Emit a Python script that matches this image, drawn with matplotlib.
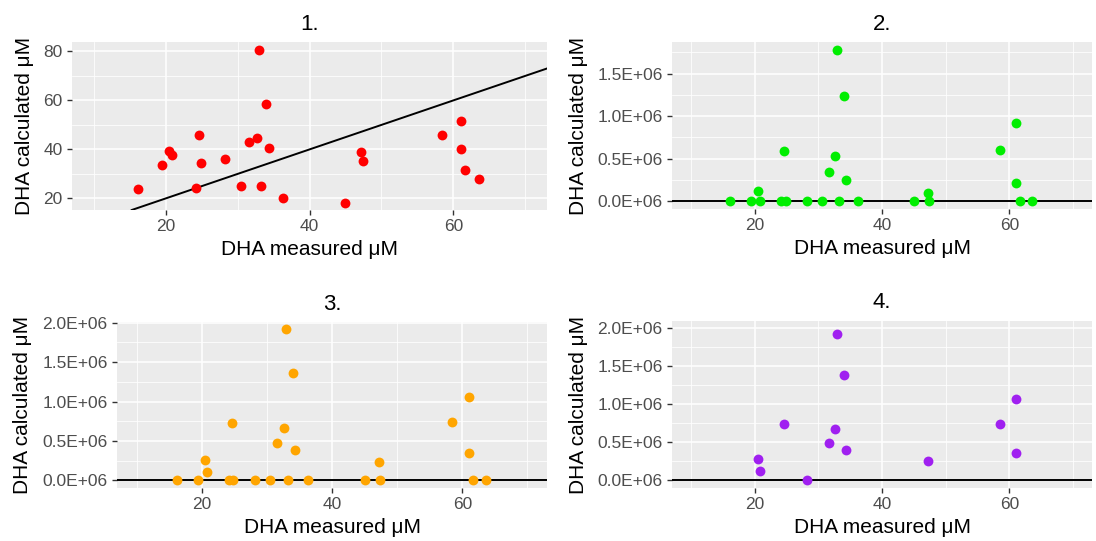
import matplotlib
matplotlib.use("Agg")
import matplotlib.pyplot as plt
from matplotlib.ticker import FuncFormatter, FixedLocator

plt.rcParams["font.family"] = ["Liberation Sans", "DejaVu Sans"]

# measured DHA (shared x for panels 1-3)
dha_measured = [16.16, 19.44, 20.46, 20.88, 24.17, 24.63, 24.86, 28.2, 30.5, 31.6,
                32.65, 32.98, 33.26, 34.0, 34.37, 36.3, 45.0, 47.16, 47.44, 58.47,
                61.1, 61.1, 61.67, 63.6]

calc_1 = [24.0, 33.7, 39.4, 37.6, 24.1, 45.7, 34.6, 36.2, 25.1, 42.9,
          44.5, 80.7, 24.9, 58.6, 40.6, 20.0, 18.35, 38.96, 35.1, 45.8,
          51.6, 40.2, 31.8, 28.1]

calc_2 = [0, 0, 0.126e6, 0, 0, 0.597e6, 0, 0, 0, 0.346e6,
          0.530e6, 1.782e6, 0, 1.237e6, 0.251e6, 0, 0, 0.102e6, 0, 0.601e6,
          0.919e6, 0.22e6, 0, 0]

calc_3 = [0, 0, 0.261e6, 0.109e6, 0, 0.728e6, 0, 0, 0, 0.476e6,
          0.665e6, 1.916e6, 0, 1.368e6, 0.383e6, 0, 0, 0.236e6, 0, 0.737e6,
          1.053e6, 0.354e6, 0, 0]

# panel 4 only has a subset of samples
dha_measured_4 = [20.46, 20.88, 24.63, 28.2, 31.6, 32.65, 32.98, 34.0, 34.37, 47.16,
                  58.47, 61.1, 61.1]
calc_4 = [0.273e6, 0.123e6, 0.738e6, 0, 0.484e6, 0.677e6, 1.921e6, 1.376e6, 0.391e6,
          0.246e6, 0.743e6, 1.06e6, 0.36e6]

titles = ["1.", "2.", "3.", "4."]
colors = ["#FF0000", "#00EE00", "#FFA500", "#A020F0"]

W, H = 1096, 541
PANEL_BG = "#EBEBEB"
PT_SIZE = 50


def px_rect(left, right, top, bottom):
    return [left / W, 1 - bottom / H, (right - left) / W, (bottom - top) / H]


def style(ax, title, ylab_x):
    ax.set_facecolor(PANEL_BG)
    for s in ax.spines.values():
        s.set_visible(False)
    ax.set_xlim(7.0, 73.0)
    ax.xaxis.set_major_locator(FixedLocator([20, 40, 60]))
    ax.xaxis.set_minor_locator(FixedLocator([10, 30, 50, 70]))
    ax.grid(which="major", color="white", linewidth=1.1)
    ax.grid(which="minor", color="white", linewidth=0.55)
    ax.set_axisbelow(True)
    ax.tick_params(which="major", length=3.5, width=1.0, color="#333333",
                   labelsize=12.5, labelcolor="#4D4D4D", pad=3.2)
    ax.tick_params(which="minor", length=0)
    ax.set_title(title, fontsize=16, pad=9)
    ax.set_xlabel("DHA measured μM", fontsize=15, labelpad=4)
    ax.set_ylabel("DHA calculated μM", fontsize=15)
    ax.yaxis.set_label_coords(ylab_x, 0.5)


sci = FuncFormatter(lambda v, p: f"{v / 1e6:.1f}E+06")

fig = plt.figure(figsize=(W / 100, H / 100), dpi=100)

# panel 1
ax1 = fig.add_axes(px_rect(72, 547, 42, 210))
ax1.scatter(dha_measured, calc_1, s=PT_SIZE, color=colors[0], linewidths=0, zorder=3)
ax1.axline((0, 0), slope=1, color="black", linewidth=1.4, zorder=2)
ax1.set_ylim(15.3, 83.8)
ax1.yaxis.set_major_locator(FixedLocator([20, 40, 60, 80]))
ax1.yaxis.set_minor_locator(FixedLocator([30, 50, 70]))
style(ax1, titles[0], -0.081)

# panel 2
ax2 = fig.add_axes(px_rect(672, 1092, 42, 209))
ax2.scatter(dha_measured, calc_2, s=PT_SIZE, color=colors[1], linewidths=0, zorder=3)
ax2.axhline(0, color="black", linewidth=1.4, zorder=2)
ax2.set_ylim(-0.089e6, 1.87e6)
ax2.yaxis.set_major_locator(FixedLocator([0, 0.5e6, 1.0e6, 1.5e6]))
ax2.yaxis.set_minor_locator(FixedLocator([0.25e6, 0.75e6, 1.25e6, 1.75e6]))
ax2.yaxis.set_major_formatter(sci)
style(ax2, titles[1], -0.2)

# panel 3
ax3 = fig.add_axes(px_rect(117, 547, 322, 488))
ax3.scatter(dha_measured, calc_3, s=PT_SIZE, color=colors[2], linewidths=0, zorder=3)
ax3.axhline(0, color="black", linewidth=1.4, zorder=2)
ax3.set_ylim(-0.096e6, 2.01e6)
ax3.yaxis.set_major_locator(FixedLocator([0, 0.5e6, 1.0e6, 1.5e6, 2.0e6]))
ax3.yaxis.set_minor_locator(FixedLocator([0.25e6, 0.75e6, 1.25e6, 1.75e6]))
ax3.yaxis.set_major_formatter(sci)
style(ax3, titles[2], -0.198)

# panel 4
ax4 = fig.add_axes(px_rect(672, 1092, 321, 488))
ax4.scatter(dha_measured_4, calc_4, s=PT_SIZE, color=colors[3], linewidths=0, zorder=3)
ax4.axhline(0, color="black", linewidth=1.4, zorder=2)
ax4.set_ylim(-0.105e6, 2.092e6)
ax4.yaxis.set_major_locator(FixedLocator([0, 0.5e6, 1.0e6, 1.5e6, 2.0e6]))
ax4.yaxis.set_minor_locator(FixedLocator([0.25e6, 0.75e6, 1.25e6, 1.75e6]))
ax4.yaxis.set_major_formatter(sci)
style(ax4, titles[3], -0.2)

fig.savefig("out.png", dpi=100, facecolor="white")
